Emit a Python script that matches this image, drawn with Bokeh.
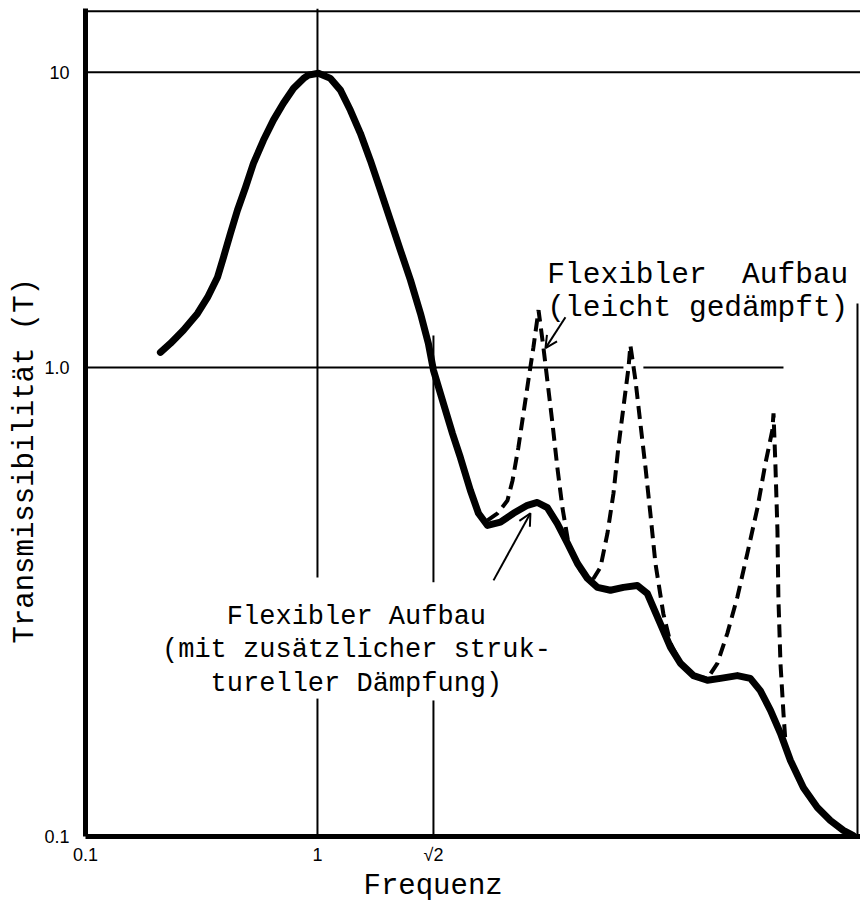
from bokeh.plotting import figure
from bokeh.models import Range1d, FixedTicker, Title, Arrow, OpenHead
from bokeh.core.properties import value
from bokeh.embed import file_html
from bokeh.resources import INLINE

# Schematic axis positions (the original chart is not drawn to a true log scale):
# x position: 0 -> "0.1", 1 -> "1", 1.5 -> "sqrt2"
# y position: -1 -> "0.1", 0 -> "1.0", 0.629 -> "10"
x_tick_pos = [0, 1, 1.5]
x_tick_labels = ["0.1", "1", "√2"]
y_tick_pos = [-1, 0, 0.629]
y_tick_labels = ["0.1", "1.0", "10"]

# Solid curve: flexible structure with additional structural damping
solid_x = [0.323, 0.366, 0.422, 0.483, 0.526, 0.569, 0.595, 0.625, 0.655, 0.690,
           0.724, 0.767, 0.810, 0.853, 0.897, 0.940, 0.961, 1.004, 1.056, 1.099,
           1.142, 1.185, 1.228, 1.272, 1.315, 1.358, 1.401, 1.444, 1.478, 1.500,
           1.543, 1.582, 1.616, 1.659, 1.694, 1.733, 1.789, 1.845, 1.905, 1.948,
           1.991, 2.034, 2.078, 2.121, 2.164, 2.207, 2.263, 2.319, 2.379, 2.422,
           2.478, 2.522, 2.565, 2.621, 2.681, 2.737, 2.810, 2.866, 2.909, 2.953,
           2.996, 3.039, 3.095, 3.155, 3.211, 3.267, 3.310]
solid_y = [0.032, 0.051, 0.079, 0.115, 0.149, 0.192, 0.235, 0.286, 0.335, 0.384,
           0.435, 0.484, 0.527, 0.563, 0.595, 0.616, 0.623, 0.627, 0.616, 0.591,
           0.548, 0.499, 0.441, 0.377, 0.313, 0.249, 0.186, 0.115, 0.051, -0.006,
           -0.077, -0.141, -0.192, -0.262, -0.311, -0.337, -0.330, -0.311, -0.294, -0.288,
           -0.299, -0.333, -0.375, -0.418, -0.450, -0.469, -0.475, -0.469, -0.465, -0.482,
           -0.546, -0.597, -0.631, -0.657, -0.667, -0.663, -0.657, -0.663, -0.689, -0.731,
           -0.780, -0.838, -0.896, -0.938, -0.966, -0.987, -0.998]

# Dashed curve: flexible structure, lightly damped
dashed_x = [1.733, 1.776, 1.819, 1.841, 1.866, 1.888, 1.909, 1.931, 1.953, 1.974,
            1.991, 2.013, 2.034, 2.056, 2.082, 2.134, 2.190, 2.220, 2.250, 2.276,
            2.297, 2.319, 2.341, 2.349, 2.371, 2.392, 2.414, 2.435, 2.457, 2.491,
            2.522, 2.565, 2.621, 2.681, 2.724, 2.767, 2.810, 2.853, 2.897, 2.931,
            2.961, 2.966, 2.974, 2.983, 2.987, 2.996, 3.009, 3.017]
dashed_y = [-0.326, -0.311, -0.284, -0.241, -0.171, -0.098, -0.028, 0.043, 0.122, 0.043,
            -0.028, -0.119, -0.213, -0.299, -0.375, -0.433, -0.450, -0.426, -0.354, -0.269,
            -0.171, -0.085, 0.000, 0.047, -0.028, -0.119, -0.213, -0.311, -0.418, -0.525,
            -0.588, -0.631, -0.657, -0.663, -0.631, -0.567, -0.490, -0.397, -0.299, -0.205,
            -0.134, -0.098, -0.205, -0.348, -0.490, -0.631, -0.738, -0.795]

# Reference lines of the drawing (with gaps where text or peaks sit)
hline_x0 = [0.0, 0.0, 0.0, 2.405]
hline_x1 = [3.341, 3.341, 2.319, 3.009]
hline_y = [0.759, 0.629, 0.0, 0.0]
vline_x = [1.0, 1.0, 1.5, 1.5, 3.328]
vline_y0 = [-1.0, -0.448, -1.0, -0.458, -1.0]
vline_y1 = [-0.706, 0.765, -0.710, 0.068, 0.136]

# Annotation texts
upper_text = ["Flexibler\u00a0 Aufbau", "(leicht gedämpft)"]
upper_x = [1.991, 1.991]
upper_y = [0.196, 0.126]
lower_text = ["Flexibler Aufbau", "(mit zusätzlicher struk-", "tureller Dämpfung)"]
lower_x = [1.168, 1.168, 1.168]
lower_y = [-0.533, -0.603, -0.674]

arrow1 = dict(x_start=2.069, y_start=0.107, x_end=1.983, y_end=0.041)
arrow2 = dict(x_start=1.759, y_start=-0.454, x_end=1.918, y_end=-0.311)

x_label = "Frequenz"
y_label = "Transmissibilität (T)"

MONO = "Liberation Mono"
SANS = "Liberation Sans"

p = figure(frame_width=775, frame_height=828,
           x_range=Range1d(0, 3.341), y_range=Range1d(-1, 0.765),
           output_backend="svg", toolbar_location=None,
           min_border_left=85, min_border_right=0, min_border_top=8,
           min_border_bottom=60)
p.grid.visible = False
p.outline_line_color = None
p.background_fill_color = "white"
p.border_fill_color = "white"

for ax, ticks, labels, standoff in ((p.xaxis[0], x_tick_pos, x_tick_labels, 8),
                                    (p.yaxis[0], y_tick_pos, y_tick_labels, 16)):
    ax.ticker = FixedTicker(ticks=ticks)
    ax.major_label_overrides = {t: l for t, l in zip(ticks, labels)}
    ax.axis_line_width = 5
    ax.axis_line_color = "black"
    ax.major_tick_in = 0
    ax.major_tick_out = 0
    ax.minor_tick_in = 0
    ax.minor_tick_out = 0
    ax.major_label_standoff = standoff
    ax.major_label_text_font = SANS
    ax.major_label_text_font_size = "18px"
    ax.major_label_text_color = "black"
p.yaxis[0].major_label_orientation = "horizontal"

# axis titles
p.add_layout(Title(text=x_label, align="left", offset=278, standoff=0,
                   text_font=MONO, text_font_size="29px",
                   text_font_style="normal", text_color="black"), "below")
p.add_layout(Title(text=y_label, align="left", offset=193, standoff=0,
                   text_font=MONO, text_font_size="29px",
                   text_font_style="normal", text_color="black"), "left")

# drawing lines
p.segment(x0=hline_x0, y0=hline_y, x1=hline_x1, y1=hline_y,
          line_color="black", line_width=2)
p.segment(x0=vline_x, y0=vline_y0, x1=vline_x, y1=vline_y1,
          line_color="black", line_width=2)

# curves
p.line(dashed_x, dashed_y, line_color="black", line_width=4,
       line_dash="13 7")
p.line(solid_x, solid_y, line_color="black", line_width=7,
       line_join="round", line_cap="round")

# texts
p.text(x=upper_x, y=upper_y, text=upper_text, text_font=value(MONO),
       text_font_size=value("29.5px"), text_align="left",
       text_baseline="alphabetic", text_color="black")
p.text(x=lower_x, y=lower_y, text=lower_text, text_font=value(MONO),
       text_font_size=value("27px"), text_align="center",
       text_baseline="alphabetic", text_color="black")

for a in (arrow1, arrow2):
    p.add_layout(Arrow(end=OpenHead(size=12, line_width=2, line_color="black"),
                       line_width=2, line_color="black", **a))

open("out.html", "w").write(file_html(p, INLINE))
